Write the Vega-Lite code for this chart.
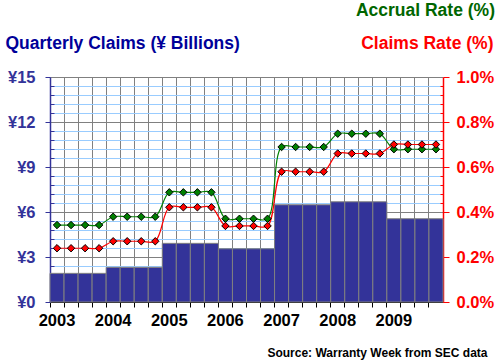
{
  "$schema": "https://vega.github.io/schema/vega-lite/v6.json",
  "width": 393,
  "height": 225,
  "autosize": {"type": "none"},
  "padding": {"left": 50, "top": 77, "right": 57, "bottom": 61},
  "background": "white",
  "config": {"font": "Liberation Sans", "view": {"stroke": null}},
  "title": {
    "text": "Accrual Rate (%)",
    "anchor": "end",
    "frame": "group",
    "color": "#006600",
    "fontSize": 17.5,
    "fontWeight": "bold",
    "font": "Liberation Sans",
    "baseline": "alphabetic",
    "dx": 52,
    "dy": -1,
    "offset": 0
  },
  "data": {
    "values": [
      {"quarter": "2003Q1", "claims": 1.91, "accrual": 0.342, "claimsRate": 0.239},
      {"quarter": "2003Q2", "claims": 1.91, "accrual": 0.342, "claimsRate": 0.239},
      {"quarter": "2003Q3", "claims": 1.91, "accrual": 0.342, "claimsRate": 0.239},
      {"quarter": "2003Q4", "claims": 1.91, "accrual": 0.342, "claimsRate": 0.239},
      {"quarter": "2004Q1", "claims": 2.31, "accrual": 0.379, "claimsRate": 0.270},
      {"quarter": "2004Q2", "claims": 2.31, "accrual": 0.379, "claimsRate": 0.270},
      {"quarter": "2004Q3", "claims": 2.31, "accrual": 0.379, "claimsRate": 0.270},
      {"quarter": "2004Q4", "claims": 2.31, "accrual": 0.379, "claimsRate": 0.270},
      {"quarter": "2005Q1", "claims": 3.91, "accrual": 0.4875, "claimsRate": 0.421},
      {"quarter": "2005Q2", "claims": 3.91, "accrual": 0.4875, "claimsRate": 0.421},
      {"quarter": "2005Q3", "claims": 3.91, "accrual": 0.4875, "claimsRate": 0.421},
      {"quarter": "2005Q4", "claims": 3.91, "accrual": 0.4875, "claimsRate": 0.421},
      {"quarter": "2006Q1", "claims": 3.55, "accrual": 0.370, "claimsRate": 0.338},
      {"quarter": "2006Q2", "claims": 3.55, "accrual": 0.370, "claimsRate": 0.338},
      {"quarter": "2006Q3", "claims": 3.55, "accrual": 0.370, "claimsRate": 0.338},
      {"quarter": "2006Q4", "claims": 3.55, "accrual": 0.370, "claimsRate": 0.338},
      {"quarter": "2007Q1", "claims": 6.48, "accrual": 0.689, "claimsRate": 0.579},
      {"quarter": "2007Q2", "claims": 6.48, "accrual": 0.689, "claimsRate": 0.579},
      {"quarter": "2007Q3", "claims": 6.48, "accrual": 0.689, "claimsRate": 0.579},
      {"quarter": "2007Q4", "claims": 6.48, "accrual": 0.689, "claimsRate": 0.579},
      {"quarter": "2008Q1", "claims": 6.68, "accrual": 0.748, "claimsRate": 0.660},
      {"quarter": "2008Q2", "claims": 6.68, "accrual": 0.748, "claimsRate": 0.660},
      {"quarter": "2008Q3", "claims": 6.68, "accrual": 0.748, "claimsRate": 0.660},
      {"quarter": "2008Q4", "claims": 6.68, "accrual": 0.748, "claimsRate": 0.660},
      {"quarter": "2009Q1", "claims": 5.55, "accrual": 0.679, "claimsRate": 0.700},
      {"quarter": "2009Q2", "claims": 5.55, "accrual": 0.679, "claimsRate": 0.700},
      {"quarter": "2009Q3", "claims": 5.55, "accrual": 0.679, "claimsRate": 0.700},
      {"quarter": "2009Q4", "claims": 5.55, "accrual": 0.679, "claimsRate": 0.700}
    ]
  },
  "encoding": {
    "x": {
      "field": "quarter",
      "type": "ordinal",
      "sort": null,
      "scale": {"paddingInner": 0, "paddingOuter": 0},
      "axis": {
        "bandPosition": 0,
        "labelExpr": "indexof(datum.value,'Q1')==4 ? substring(datum.value,0,4) : ''",
        "labelAngle": 0,
        "labelOffset": 0,
        "labelFontSize": 16.5,
        "labelFontWeight": "bold",
        "labelColor": "black",
        "labelPadding": 5,
        "labelOverlap": false,
        "labelBound": false,
        "tickSize": 5,
        "tickColor": "black",
        "domainColor": "black",
        "grid": true,
        "gridColor": "#808080",
        "gridWidth": 1,
        "gridOpacity": 1,
        "title": "Source: Warranty Week from SEC data",
        "titleX": 437,
        "titleY": 54,
        "titleAlign": "right",
        "titleBaseline": "alphabetic",
        "titleFontSize": 12,
        "titleFontWeight": "bold",
        "titleColor": "black"
      }
    }
  },
  "layer": [
    {
      "mark": {"type": "bar", "color": "#333399", "stroke": "#808080", "strokeWidth": 1},
      "encoding": {
        "y": {
          "field": "claims",
          "type": "quantitative",
          "scale": {"domain": [0, 15], "nice": false},
          "axis": {
            "orient": "left",
            "values": [0, 0.6, 1.2, 1.8, 2.4, 3, 3.6, 4.2, 4.8, 5.4, 6, 6.6, 7.2, 7.8, 8.4, 9, 9.6, 10.2, 10.8, 11.4, 12, 12.6, 13.2, 13.8, 14.4, 15],
            "labelExpr": "abs(datum.value/3-round(datum.value/3))<0.001 ? '¥'+round(datum.value) : ''",
            "labelFontSize": 16.5,
            "labelFontWeight": "bold",
            "labelColor": "#333399",
            "labelPadding": 10,
            "labelOverlap": false,
            "labelFlush": false,
            "tickColor": "#333399",
            "tickSize": {"condition": {"test": "abs(datum.value/3-round(datum.value/3))>0.001", "value": -4}, "value": 5},
            "domainColor": "#333399",
            "domainWidth": 1.5,
            "grid": true,
            "gridOpacity": 1,
            "gridColor": {"condition": {"test": "abs(datum.value/3-round(datum.value/3))<0.001", "value": "#808080"}, "value": "#99CCFF"},
            "title": "Quarterly Claims (¥ Billions)",
            "titleAngle": 0,
            "titleX": -45,
            "titleY": -29,
            "titleAlign": "left",
            "titleBaseline": "alphabetic",
            "titleFontSize": 17.5,
            "titleFontWeight": "bold",
            "titleColor": "#000099"
          }
        }
      }
    },
    {
      "encoding": {
        "y": {
          "type": "quantitative",
          "scale": {"domain": [0, 1], "nice": false},
          "axis": {
            "orient": "right",
            "values": [0, 0.04, 0.08, 0.12, 0.16, 0.2, 0.24, 0.28, 0.32, 0.36, 0.4, 0.44, 0.48, 0.52, 0.56, 0.6, 0.64, 0.68, 0.72, 0.76, 0.8, 0.84, 0.88, 0.92, 0.96, 1],
            "labelExpr": "abs(datum.value/0.2-round(datum.value/0.2))<0.001 ? format(datum.value,'.1f')+'%' : ''",
            "labelFontSize": 16.5,
            "labelFontWeight": "bold",
            "labelColor": "red",
            "labelPadding": 7,
            "labelOverlap": false,
            "labelFlush": false,
            "tickColor": "red",
            "tickSize": {"condition": {"test": "abs(datum.value/0.2-round(datum.value/0.2))>0.001", "value": -3}, "value": 6},
            "domainColor": "red",
            "domainWidth": 1.5,
            "grid": false,
            "title": "Claims Rate (%)",
            "titleAngle": 0,
            "titleX": 50,
            "titleY": -29,
            "titleAlign": "right",
            "titleBaseline": "alphabetic",
            "titleFontSize": 17.5,
            "titleFontWeight": "bold",
            "titleColor": "red"
          }
        }
      },
      "layer": [
        {
          "mark": {"type": "line", "color": "#008000", "strokeWidth": 1.2, "interpolate": "catmull-rom"},
          "encoding": {"y": {"field": "accrual", "type": "quantitative"}}
        },
        {
          "mark": {"type": "line", "color": "#FF0000", "strokeWidth": 1.2, "interpolate": "catmull-rom"},
          "encoding": {"y": {"field": "claimsRate", "type": "quantitative"}}
        },
        {
          "mark": {"type": "point", "shape": "diamond", "filled": true, "fill": "#008000", "stroke": "black", "strokeWidth": 1, "size": 55, "opacity": 1},
          "encoding": {"y": {"field": "accrual", "type": "quantitative"}}
        },
        {
          "mark": {"type": "point", "shape": "diamond", "filled": true, "fill": "#FF0000", "stroke": "black", "strokeWidth": 1, "size": 55, "opacity": 1},
          "encoding": {"y": {"field": "claimsRate", "type": "quantitative"}}
        }
      ]
    }
  ],
  "resolve": {"scale": {"y": "independent"}}
}
